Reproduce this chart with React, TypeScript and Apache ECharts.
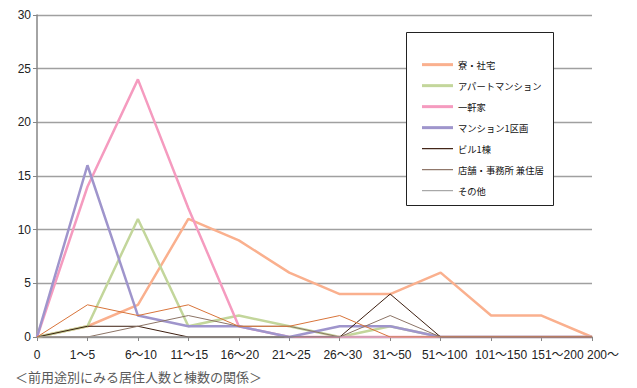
import React, { useEffect, useRef } from "react";
import * as echarts from "echarts";

const categories = ["0", "1〜5", "6〜10", "11〜15", "16〜20", "21〜25", "26〜30", "31〜50", "51〜100", "101〜150", "151〜200", "200〜"];
const yTicks = [0, 5, 10, 15, 20, 25, 30];

const dormValues = [0, 1, 3, 11, 9, 6, 4, 4, 6, 2, 2, 0];
const apartmentValues = [0, 1, 11, 1, 2, 1, 0, 1, 0, 0, 0, 0];
const houseValues = [0, 14, 24, 12, 1, 0, 0, 0, 0, 0, 0, 0];
const condoUnitValues = [0, 16, 2, 1, 1, 0, 1, 1, 0, 0, 0, 0];
const buildingValues = [0, 1, 1, 0, 0, 0, 0, 4, 0, 0, 0, 0];
const shopOfficeValues = [0, 0, 1, 2, 1, 1, 0, 2, 0, 0, 0, 0];
const otherValues = [0, 0, 0, 0, 0, 0, 0, 0, 0, 0, 0, 0];
const unlistedValues = [0, 3, 2, 3, 1, 1, 2, 0, 0, 0, 0, 0];

const legendNames = ["寮・社宅", "アパートマンション", "一軒家", "マンション1区画", "ビル1棟", "店舗・事務所 兼住居", "その他"];
const caption = "＜前用途別にみる居住人数と棟数の関係＞";

// horizontal nudges (px) of the category labels, as the original layout avoided overlaps
const labelNudge = [0, -5, 3, 1, 1, 2, 3, 2, 4, 10, 16, 11];

const FONT = "'Noto Sans CJK JP', 'Noto Sans', sans-serif";
const NUMFONT = "'Liberation Sans', 'Noto Sans CJK JP', sans-serif";

const THICK_ICON = "path://M0 0 H31 V3 H0 Z";
const THIN_ICON = "path://M0 0 H31 V1.2 H0 Z";

export default function App() {
  const ref = useRef<HTMLDivElement>(null);
  useEffect(() => {
    if (!ref.current) return;
    const chart = echarts.init(ref.current, undefined, { renderer: "svg" });
    const mk = (name: string, data: number[], color: string, width: number, z: number) => ({
      name,
      type: "line",
      data,
      symbol: "none",
      showSymbol: false,
      z,
      lineStyle: { color, width },
      itemStyle: { color },
    });
    const rich: Record<string, any> = {};
    labelNudge.forEach((d, i) => {
      rich["s" + i] = {
        fontSize: 12,
        color: "#222",
        fontFamily: NUMFONT,
        padding: d >= 0 ? [0, 0, 0, 2 * d] : [0, -2 * d, 0, 0],
      };
    });
    chart.setOption({
      animation: false,
      backgroundColor: "#ffffff",
      textStyle: { fontFamily: FONT },
      grid: { left: 37, right: 45, top: 15, bottom: 51, containLabel: false },
      xAxis: {
        type: "category",
        data: categories,
        boundaryGap: false,
        axisLine: { lineStyle: { color: "#868686", width: 1.5 } },
        axisTick: { show: true, alignWithLabel: true, length: 4, lineStyle: { color: "#868686" } },
        axisLabel: {
          color: "#222",
          fontSize: 12,
          margin: 12,
          interval: 0,
          hideOverlap: false,
          fontFamily: NUMFONT,
          formatter: (v: string, i: number) => `{s${i}|${v}}`,
          rich,
        },
        splitLine: { show: false },
      },
      yAxis: {
        type: "value",
        min: yTicks[0],
        max: yTicks[yTicks.length - 1],
        interval: 5,
        axisLine: { show: true, lineStyle: { color: "#868686", width: 1.5 } },
        axisTick: { show: true, length: 4, lineStyle: { color: "#868686" } },
        axisLabel: { color: "#222", fontSize: 12, margin: 6, fontFamily: NUMFONT },
        splitLine: { show: true, lineStyle: { color: "#a0a0a0", width: 1.3 } },
      },
      legend: {
        data: legendNames.map((n, i) => ({ name: n, icon: i < 4 ? THICK_ICON : THIN_ICON })),
        orient: "vertical",
        left: 422,
        top: 60,
        padding: 0,
        itemWidth: 31,
        itemHeight: 10,
        itemGap: 11.7,
        z: 20,
        textStyle: { fontSize: 9.3, color: "#111", fontFamily: FONT },
      },
      graphic: [
        {
          type: "rect",
          z: 15,
          shape: { x: 406.5, y: 32.5, width: 147, height: 173 },
          style: { fill: "#ffffff", stroke: "#222", lineWidth: 1 },
        },
        {
          type: "text",
          left: 15,
          top: 370,
          style: { text: caption, fontSize: 13, fill: "#595959", fontFamily: FONT },
        },
      ],
      series: [
        mk(legendNames[0], dormValues, "#fab08e", 2.5, 2),
        mk(legendNames[1], apartmentValues, "#c3d69b", 2.5, 2),
        mk(legendNames[2], houseValues, "#f59bbf", 2.5, 2),
        mk(legendNames[3], condoUnitValues, "#9f95cc", 2.5, 3),
        mk(legendNames[4], buildingValues, "#3d1f10", 1, 4),
        mk(legendNames[5], shopOfficeValues, "#8c7466", 1, 4),
        mk(legendNames[6], otherValues, "#a6a6a6", 1, 4),
        mk("凡例外", unlistedValues, "#d8743a", 1, 4),
      ],
    });
    return () => chart.dispose();
  }, []);
  return <div ref={ref} style={{ width: 637, height: 388, position: "absolute", left: 0, top: 0 }} />;
}
